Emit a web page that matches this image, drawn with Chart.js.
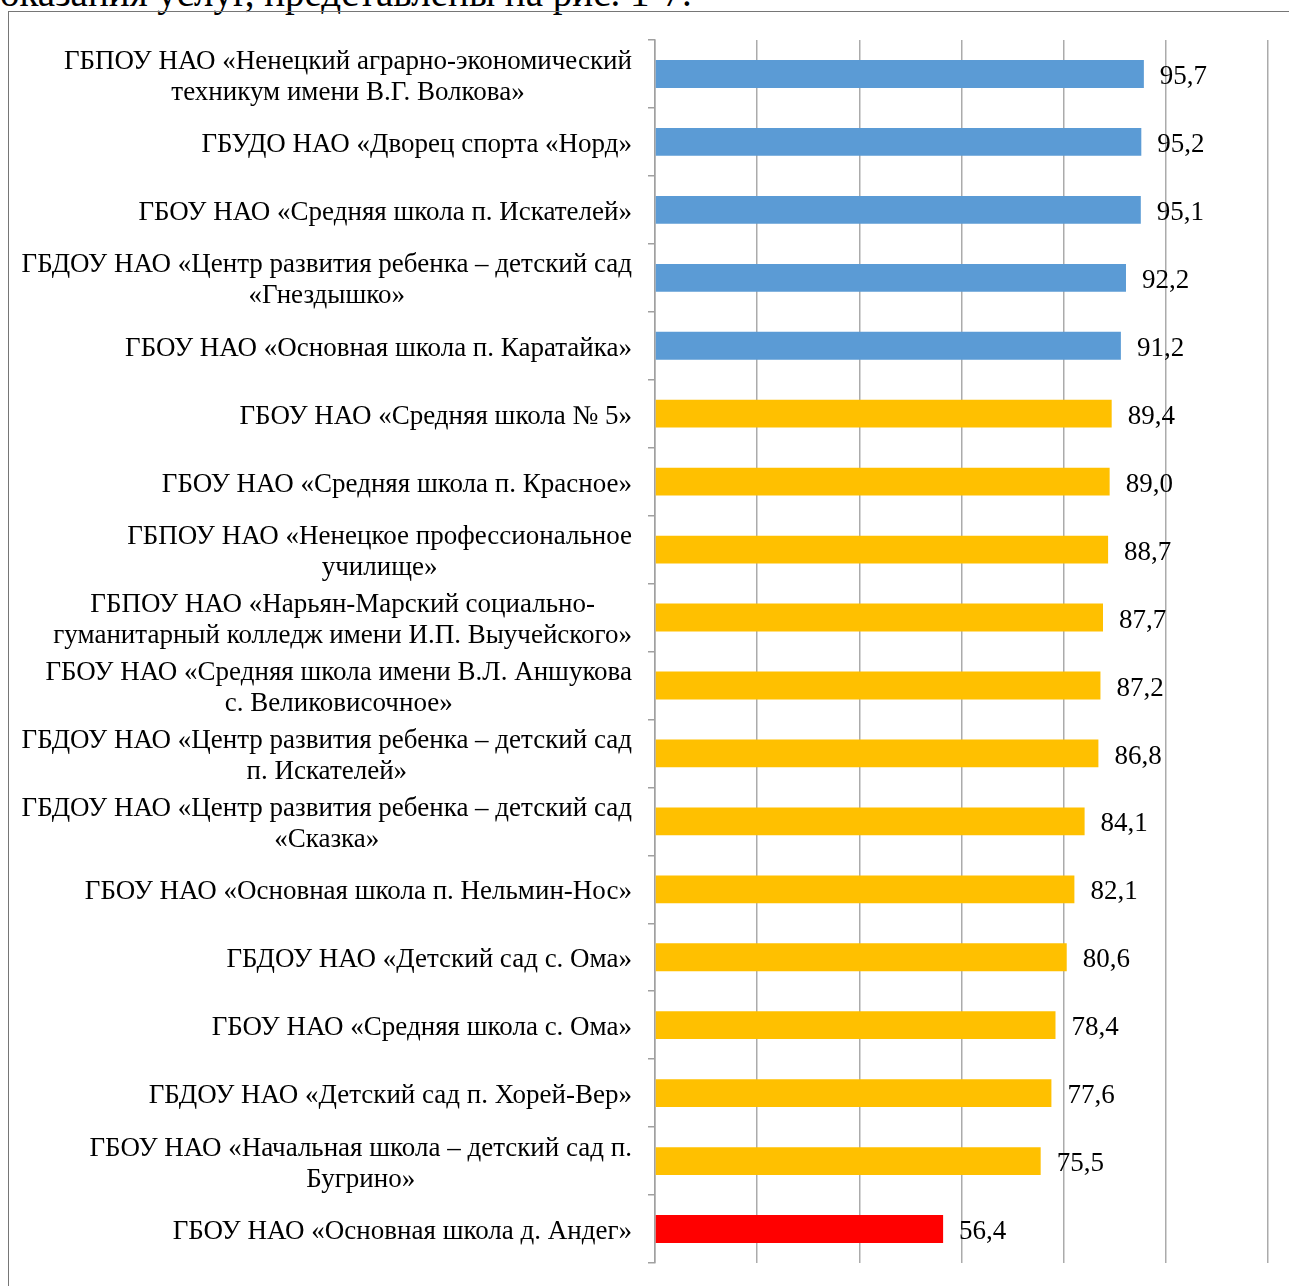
<!DOCTYPE html>
<html><head><meta charset="utf-8">
<script src="https://cdn.jsdelivr.net/npm/chart.js@4"></script>
<style>
html,body{margin:0;padding:0;background:#fff;width:1289px;height:1286px;overflow:hidden;}
#top{position:absolute;left:0;top:-27px;font:39px 'Liberation Serif';line-height:39px;white-space:nowrap;color:#000}
#frame{position:absolute;left:8px;top:11px;width:1400px;height:1400px;border-top:1.5px solid #767676;border-left:1.5px solid #767676;}
#wrap{position:absolute;left:0;top:0;width:1289px;height:1286px;}
</style></head><body>
<div id="top">оказания услуг, представлены на рис. 1-7.</div>
<div id="frame"></div>
<div id="wrap"><canvas id="c" width="1289" height="1286"></canvas></div>
<script>
const categories = [
  ["ГБПОУ НАО «Ненецкий аграрно-экономический", "техникум имени В.Г. Волкова»"],
  ["ГБУДО НАО «Дворец спорта «Норд»"],
  ["ГБОУ НАО «Средняя школа п. Искателей»"],
  ["ГБДОУ НАО «Центр развития ребенка – детский сад", "«Гнездышко»"],
  ["ГБОУ НАО «Основная школа п. Каратайка»"],
  ["ГБОУ НАО «Средняя школа № 5»"],
  ["ГБОУ НАО «Средняя школа п. Красное»"],
  ["ГБПОУ НАО «Ненецкое профессиональное", "училище»"],
  ["ГБПОУ НАО «Нарьян-Марский социально-", "гуманитарный колледж имени И.П. Выучейского»"],
  ["ГБОУ НАО «Средняя школа имени В.Л. Аншукова", "с. Великовисочное»"],
  ["ГБДОУ НАО «Центр развития ребенка – детский сад", "п. Искателей»"],
  ["ГБДОУ НАО «Центр развития ребенка – детский сад", "«Сказка»"],
  ["ГБОУ НАО «Основная школа п. Нельмин-Нос»"],
  ["ГБДОУ НАО «Детский сад с. Ома»"],
  ["ГБОУ НАО «Средняя школа с. Ома»"],
  ["ГБДОУ НАО «Детский сад п. Хорей-Вер»"],
  ["ГБОУ НАО «Начальная школа – детский сад п.", "Бугрино»"],
  ["ГБОУ НАО «Основная школа д. Андег»"]
];
const values = [95.7, 95.2, 95.1, 92.2, 91.2, 89.4, 89.0, 88.7, 87.7, 87.2, 86.8, 84.1, 82.1, 80.6, 78.4, 77.6, 75.5, 56.4];
const xMin = 0, xMax = 120, xStep = 20;

const FONT = "27px 'Liberation Serif'";
function colorFor(v){ return v >= 90 ? '#5B9BD5' : (v >= 70 ? '#FFC000' : '#FF0000'); }
function fmt(v){ return v.toFixed(1).replace('.', ','); }

const labelPlugin = {
  id: 'labels',
  afterDraw(chart){
    const ctx = chart.ctx;
    const ys = chart.scales.y, xs = chart.scales.x;
    ctx.save();
    ctx.font = FONT;
    ctx.fillStyle = '#000';
    ctx.textBaseline = 'middle';
    const lh = 31;
    categories.forEach((lines, i) => {
      const cy = ys.getPixelForValue(i);
      let maxW = 0;
      lines.forEach(l => { maxW = Math.max(maxW, ctx.measureText(l).width); });
      const cx = ys.right - 23 - maxW / 2;
      ctx.textAlign = 'center';
      const y0 = cy - (lines.length - 1) * lh / 2 + 3;
      lines.forEach((l, k) => ctx.fillText(l, cx, y0 + k * lh));
      ctx.textAlign = 'left';
      ctx.fillText(fmt(values[i]), xs.getPixelForValue(values[i]) + 16, cy + 3);
    });
    ctx.restore();
  }
};

new Chart(document.getElementById('c'), {
  type: 'bar',
  data: {
    labels: categories,
    datasets: [{
      data: values,
      backgroundColor: values.map(colorFor),
      borderWidth: 0,
      barPercentage: 0.41,
      categoryPercentage: 1
    }]
  },
  options: {
    indexAxis: 'y',
    responsive: false,
    devicePixelRatio: 1,
    animation: false,
    layout: { padding: { top: 40, right: 21, bottom: 23, left: 0 } },
    plugins: { legend: { display: false }, tooltip: { enabled: false } },
    scales: {
      x: {
        min: xMin, max: xMax,
        ticks: { display: false, stepSize: xStep },
        grid: { color: '#ababab', lineWidth: 1.5, drawTicks: false },
        border: { display: false }
      },
      y: {
        ticks: { display: false },
        grid: { drawOnChartArea: false, drawTicks: true, tickLength: 7, color: '#a0a0a0', lineWidth: 1.5 },
        border: { display: true, color: '#a0a0a0', width: 1.5 },
        afterFit(s){ s.width = 655; }
      }
    }
  },
  plugins: [labelPlugin]
});
</script>
</body></html>
